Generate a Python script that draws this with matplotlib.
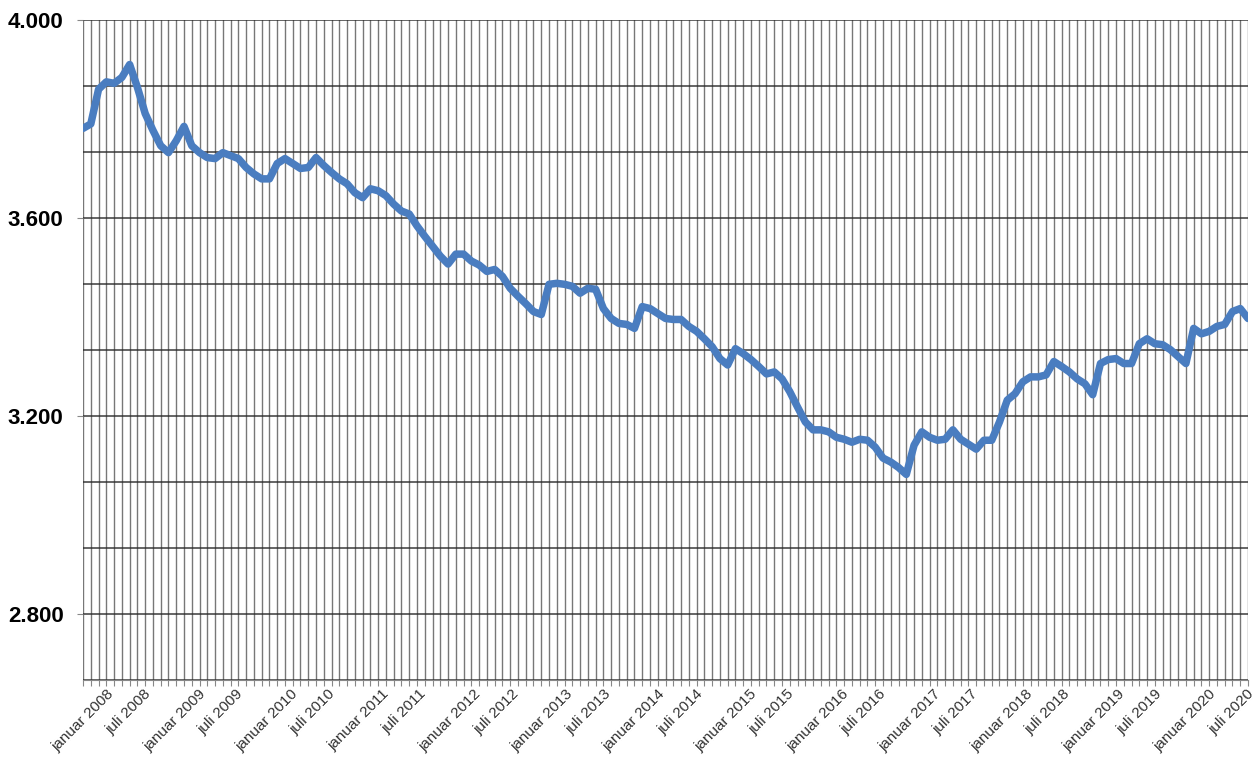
import matplotlib.pyplot as plt
from matplotlib.ticker import FuncFormatter

# monthly values, januar 2008 .. juli 2020
values = [
    3781, 3790, 3860, 3875, 3872, 3884, 3910, 3864, 3811, 3777,
    3746, 3732, 3756, 3785, 3746, 3732, 3722, 3720, 3732, 3726,
    3720, 3702, 3689, 3679, 3679, 3710, 3720, 3710, 3700, 3702,
    3722, 3706, 3692, 3679, 3669, 3651, 3641, 3659, 3655, 3645,
    3628, 3614, 3608, 3584, 3563, 3543, 3523, 3507, 3527, 3527,
    3513, 3505, 3492, 3496, 3482, 3458, 3442, 3427, 3411, 3405,
    3466, 3468, 3466, 3462, 3448, 3458, 3456, 3417, 3397, 3387,
    3385, 3377, 3421, 3417, 3407, 3397, 3395, 3395, 3381, 3371,
    3356, 3340, 3316, 3303, 3336, 3326, 3314, 3300, 3285, 3289,
    3275, 3249, 3218, 3188, 3172, 3172, 3168, 3157, 3153, 3147,
    3153, 3151, 3137, 3115, 3107, 3096, 3082, 3141, 3168, 3157,
    3151, 3153, 3172, 3153, 3143, 3133, 3151, 3151, 3188, 3232,
    3245, 3269, 3279, 3279, 3283, 3310, 3300, 3289, 3275, 3265,
    3243, 3306, 3314, 3316, 3306, 3306, 3346, 3356, 3346, 3344,
    3334, 3320, 3306, 3377, 3366, 3371, 3381, 3385, 3411, 3417,
    3397,
]

half_year_labels = [
    'januar 2008', 'juli 2008', 'januar 2009', 'juli 2009',
    'januar 2010', 'juli 2010', 'januar 2011', 'juli 2011',
    'januar 2012', 'juli 2012', 'januar 2013', 'juli 2013',
    'januar 2014', 'juli 2014', 'januar 2015', 'juli 2015',
    'januar 2016', 'juli 2016', 'januar 2017', 'juli 2017',
    'januar 2018', 'juli 2018', 'januar 2019', 'juli 2019',
    'januar 2020', 'juli 2020',
]

y_labelled = [2800, 3200, 3600, 4000]

n = len(values)
months = list(range(n))

fig = plt.figure(figsize=(12.6, 7.65), dpi=100)
ax = fig.add_axes([0.0659, 0.1111, 0.9246, 0.8628])

ax.plot(months, values, color='#4a7dc0', lw=5.4, solid_joinstyle='round',
        solid_capstyle='round', zorder=3)

ax.set_xlim(0, n - 1)
ax.set_ylim(2800 - 400 / 3, 4000)

# one gridline/tick per month
ax.set_xticks(months)
ax.set_xticklabels([])
ax.tick_params(axis='x', length=4, color='#888888')

# half-year labels; Excel squeezes them slightly leftwards towards the end
for k, lab in enumerate(half_year_labels):
    i = k * 6
    ax.annotate(lab, xy=(i, 0), xycoords=ax.get_xaxis_transform(),
                xytext=(-0.08 * i, -5), textcoords='offset points',
                rotation=45, ha='center', va='top', fontsize=11,
                family='Liberation Sans', color='#333333',
                annotation_clip=False)

ax.set_yticks(y_labelled)
ax.set_yticks([2800 + 400 / 3 * k for k in range(-1, 10) if k % 3 != 0],
              minor=True)
ax.yaxis.set_major_formatter(FuncFormatter(lambda v, p: f'{v:,.0f}'.replace(',', '.')))
ax.tick_params(axis='y', which='major', length=4, color='#888888', pad=10,
               labelsize=16)
ax.tick_params(axis='y', which='minor', length=0)
for t in ax.get_yticklabels():
    t.set_fontweight('bold')
    t.set_family('Liberation Sans')

ax.grid(True, axis='x', color='#4a4a4a', lw=1.0, alpha=0.75)
ax.grid(True, axis='y', which='both', color='#2a2a2a', lw=1.2, alpha=0.85)
ax.set_axisbelow(True)

for s in ['top', 'right', 'left']:
    ax.spines[s].set_visible(False)
ax.spines['bottom'].set_color('#888888')

fig.savefig('out.png', dpi=100)
